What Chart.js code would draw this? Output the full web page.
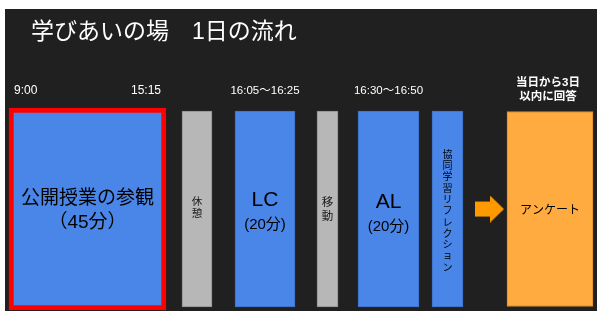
<!DOCTYPE html>
<html><head><meta charset="utf-8">
<script src="https://cdn.jsdelivr.net/npm/chart.js@4"></script>
<style>
html,body{margin:0;padding:0;background:#fff;width:597px;height:311px;overflow:hidden}
#wrap{position:absolute;left:5px;top:9px;width:592px;height:302px;background:#202020}
canvas{display:block}
</style></head><body>
<div id="wrap"><canvas id="c" width="592" height="302"></canvas></div>
<script>
// ---- data ----
const chartTitle = '学びあいの場　1日の流れ';
const blockNames = ['公開授業の参観', '休憩', 'LC', '移動', 'AL', '協同学習リフレクション', 'アンケート'];
const blockStart = [4, 177, 230, 312, 353, 427, 502];
const blockEnd   = [161, 207, 290, 333, 414, 458, 588];
const blockSubLabels = ['（45分）', '', '(20分)', '', '(20分)', '', ''];
const timeLabels = ['9:00', '15:15', '16:05〜16:25', '16:30〜16:50', '当日から3日', '以内に回答'];
const arrowPoint = [{x: 484.5, y: 0}];

// ---- styles ----
const FONT = "'Liberation Sans', 'Noto Sans CJK JP', sans-serif";
const BLUE = '#4a86e8', GRAY = '#b7b7b7', ORANGE = '#ffab40';
const fills   = [BLUE, GRAY, BLUE, GRAY, BLUE, BLUE, ORANGE];
const strokes = ['#ff0000', '#8f8f8f', '#3d6fc4', '#8f8f8f', '#3d6fc4', '#3d6fc4', '#d98a2b'];
const widths  = [5, 1, 1, 1, 1, 1, 1];
const thick   = [202, 196, 196, 196, 196, 196, 195];

// arrow marker
const arrowImg = document.createElement('canvas');
arrowImg.width = 29; arrowImg.height = 27;
(function(){
  const g = arrowImg.getContext('2d');
  g.fillStyle = '#ff9900';
  g.beginPath();
  g.moveTo(0, 6); g.lineTo(15, 6); g.lineTo(15, 0); g.lineTo(29, 13.5);
  g.lineTo(15, 27); g.lineTo(15, 21); g.lineTo(0, 21); g.closePath();
  g.fill();
})();

// text layout per block: [text, fontSize, dy]
function blockTextSpec(i) {
  const name = blockNames[i], sub = blockSubLabels[i];
  switch (i) {
    case 0: return [[name, 19, -10], [sub, 19, 14]];
    case 1: return name.split('').map((ch, k) => [ch, 10.5, -6.5 + k * 11.5]);
    case 2: return [[name, 21, -9], [sub, 15, 16]];
    case 3: return name.split('').map((ch, k) => [ch, 11.5, -6.5 + k * 14.5]);
    case 4: return [[name, 21, -7], [sub, 15, 18]];
    case 5: return name.split('').map((ch, k) => [ch, 10, -54 + k * 11.3]);
    case 6: return [[name, 12, 2]];
  }
  return [];
}

const textPlugin = {
  id: 'boxText',
  afterDatasetsDraw(chart) {
    const ctx = chart.ctx;
    const els = [];
    blockNames.forEach((n, i) => {
      const el = chart.getDatasetMeta(i).data[0];
      els.push(el.getProps(['x', 'y', 'base'], true));
    });
    ctx.save();
    ctx.textAlign = 'center';
    ctx.textBaseline = 'middle';
    els.forEach((p, i) => {
      const cx = (p.x + p.base) / 2;
      ctx.fillStyle = (i === 1 || i === 3) ? '#1a1a1a' : '#000000';
      blockTextSpec(i).forEach(([t, size, dy]) => {
        ctx.font = size + 'px ' + FONT;
        ctx.fillText(t, cx, p.y + dy);
      });
    });
    // time labels above the blocks
    const topY = els[0].y - 118;
    ctx.fillStyle = '#ffffff';
    ctx.font = '12px ' + FONT;
    ctx.textAlign = 'left';
    ctx.fillText(timeLabels[0], els[0].base + 5, topY);
    ctx.textAlign = 'right';
    ctx.fillText(timeLabels[1], els[0].x - 5, topY);
    ctx.textAlign = 'center';
    ctx.font = '11.5px ' + FONT;
    ctx.fillText(timeLabels[2], (els[2].x + els[2].base) / 2, topY);
    ctx.fillText(timeLabels[3], (els[4].x + els[4].base) / 2, topY);
    ctx.font = 'bold 11.5px ' + FONT;
    const c6 = (els[6].x + els[6].base) / 2 - 2;
    ctx.fillText(timeLabels[4], c6, topY - 8);
    ctx.fillText(timeLabels[5], c6, topY + 6);
    // title
    ctx.font = '23px ' + FONT;
    ctx.textAlign = 'left';
    ctx.fillText(chartTitle, 26, 24);
    ctx.restore();
  }
};

const datasets = blockNames.map((n, i) => ({
  type: 'bar',
  indexAxis: 'y',
  label: n,
  data: [{x: [blockStart[i], blockEnd[i]], y: 0}],
  backgroundColor: fills[i],
  borderColor: strokes[i],
  borderWidth: widths[i],
  borderSkipped: false,
  barThickness: thick[i]
}));
datasets.push({
  type: 'scatter',
  label: 'arrow',
  data: arrowPoint,
  pointStyle: arrowImg,
  pointRadius: 10,
  showLine: false
});

new Chart(document.getElementById('c'), {
  data: {datasets},
  options: {
    responsive: false,
    animation: false,
    devicePixelRatio: 1,
    layout: {padding: 0, autoPadding: false},
    scales: {
      x: {type: 'linear', min: 0, max: 592, display: false, stacked: false, offset: false, grace: 0},
      y: {type: 'linear', min: -1, max: 1.961, display: false, stacked: true, offset: false, grace: 0}
    },
    plugins: {legend: {display: false}, tooltip: {enabled: false}, title: {display: false}}
  },
  plugins: [textPlugin]
});
</script>
</body></html>
